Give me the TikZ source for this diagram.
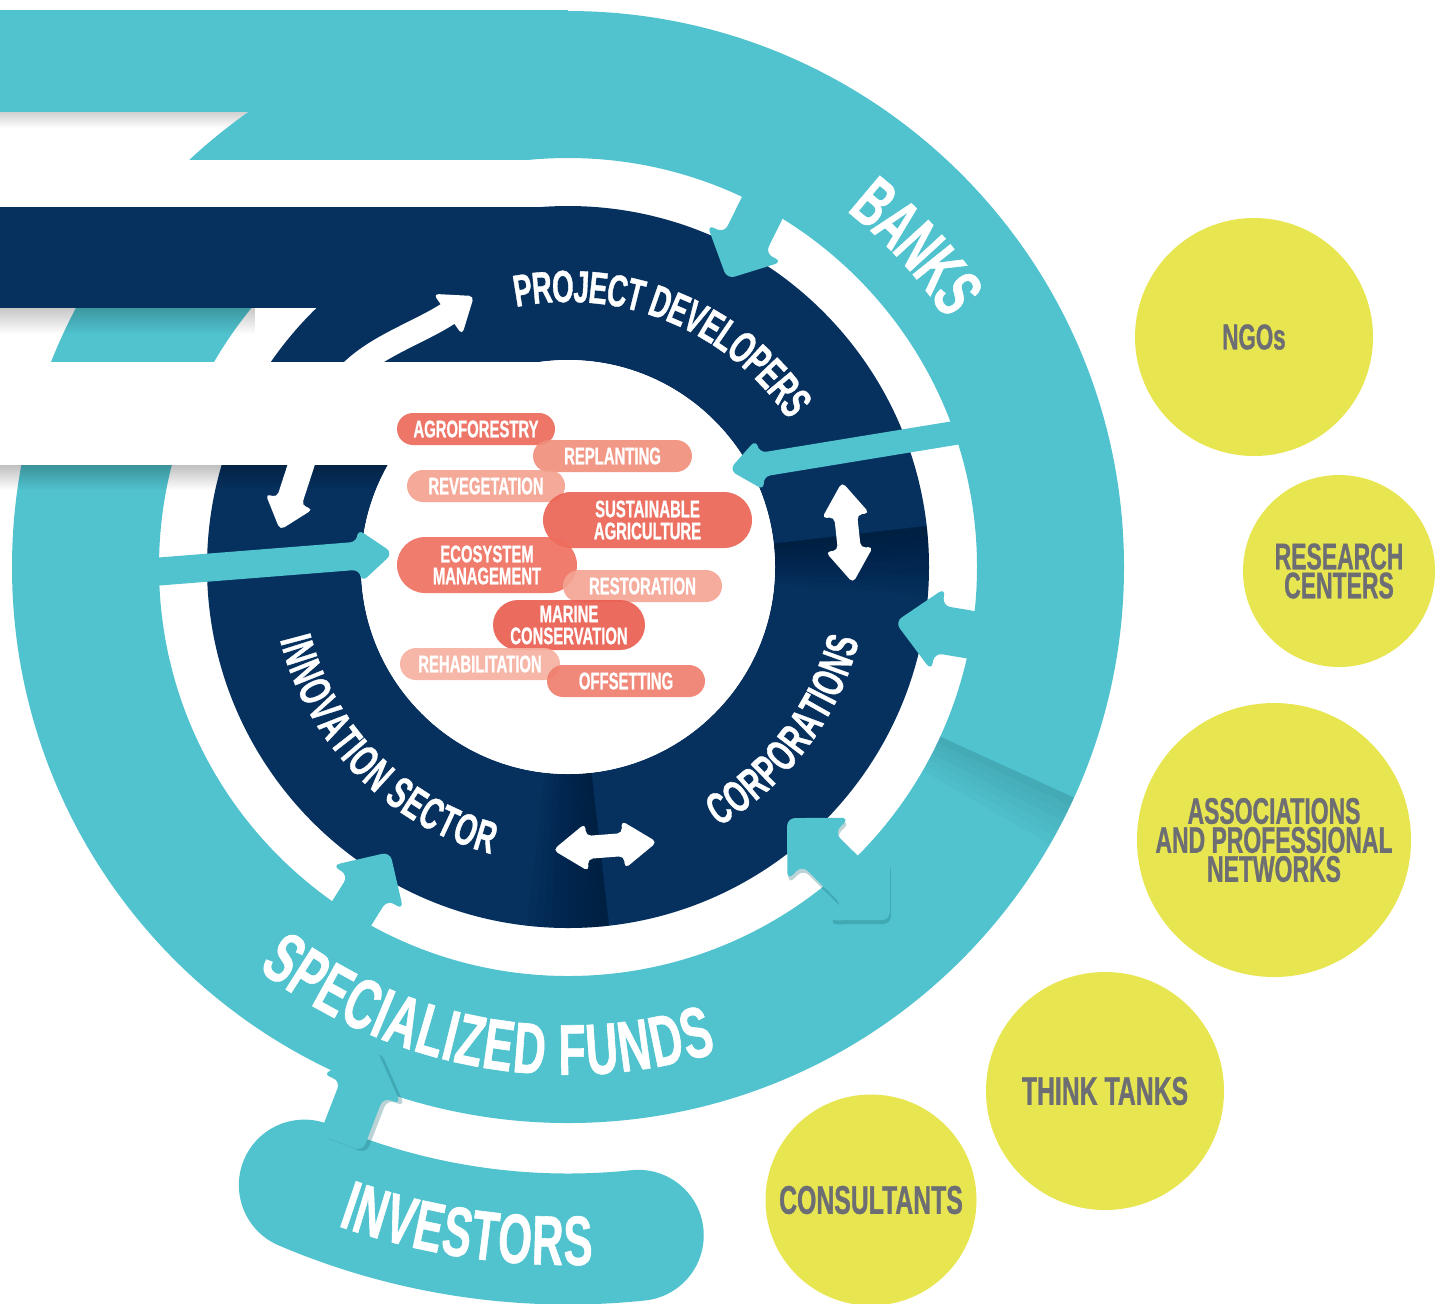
\documentclass[tikz,border=0pt]{standalone}
\usepackage{fontspec}
\newfontfamily\cf[FakeStretch=0.62,FakeBold=0.8]{Liberation Sans}
\usetikzlibrary{calc,decorations.text,fadings}
\definecolor{tealc}{RGB}{80,195,207}
\definecolor{tealdark}{RGB}{30,110,120}
\definecolor{navyc}{RGB}{6,48,94}
\definecolor{yelc}{RGB}{232,230,80}
\definecolor{grayt}{RGB}{108,110,116}
\definecolor{pA}{RGB}{236,104,88}
\definecolor{pB}{RGB}{241,141,122}
\definecolor{pC}{RGB}{244,160,142}
\definecolor{pD}{RGB}{236,98,82}
\definecolor{pE}{RGB}{239,110,94}
\definecolor{pF}{RGB}{245,164,146}
\definecolor{pG}{RGB}{234,92,78}
\definecolor{pH}{RGB}{246,176,160}
\definecolor{pI}{RGB}{240,125,108}
\tikzfading[name=fadedown, top color=transparent!0, bottom color=transparent!100]
\newcommand\fatarrow[6]{%
  \path let \p1=($(#3)-(#2)$) in \pgfextra{%
    \pgfmathsetmacro\fatmpl{veclen(\x1,\y1)}%
    \pgfmathsetmacro\fatmpa{atan2(\y1,\x1)}%
    \xdef\falen{\fatmpl}\xdef\faang{\fatmpa}};
  \fill[#1, shift={(#3)}, rotate=\faang] (0pt,0pt) -- (-#6pt,#5pt) -- (-#6pt,#4pt)
    -- ({-\falen*1pt},#4pt) -- ({-\falen*1pt},-#4pt) -- (-#6pt,-#4pt) -- (-#6pt,-#5pt) -- cycle;
}
\newcommand\fatdarrow[6]{%
  \path let \p1=($(#3)-(#2)$) in \pgfextra{%
    \pgfmathsetmacro\fatmpl{veclen(\x1,\y1)}%
    \pgfmathsetmacro\fatmpa{atan2(\y1,\x1)}%
    \xdef\falen{\fatmpl}\xdef\faang{\fatmpa}};
  \fill[#1, shift={(#3)}, rotate=\faang] (0pt,0pt) -- (-#6pt,#5pt) -- (-#6pt,#4pt)
    -- ({-\falen*1pt+#6pt},#4pt) -- ({-\falen*1pt+#6pt},#5pt) -- ({-\falen*1pt},0pt)
    -- ({-\falen*1pt+#6pt},-#5pt) -- ({-\falen*1pt+#6pt},-#4pt) -- (-#6pt,-#4pt) -- (-#6pt,-#5pt) -- cycle;
}
\begin{document}
\begin{tikzpicture}[x=0.5pt,y=0.5pt,
  pill/.style={rectangle, rounded corners=8pt, inner sep=0pt, minimum height=16pt, text=white,
    font=\cf\bfseries\fontsize{12}{11}\selectfont, align=center, fill opacity=0.9, text opacity=1},
  pilltwo/.style={pill, rounded corners=14pt, minimum height=28pt},
  ycirc/.style={circle, fill=yelc, inner sep=0pt, text=grayt,
    font=\cf\bfseries\fontsize{18.5}{14.5}\selectfont, align=center},
  tealarrow/.style={fill=tealc, rounded corners=4pt},
  shadowarrow/.style={fill=tealdark, opacity=0.3, rounded corners=4pt},
  whitearrow/.style={fill=white, rounded corners=2.5pt},
  ringtext/.style n args={3}{decorate, decoration={text along path,
    text={|\cf\bfseries\fontsize{#1}{#1}\selectfont\color{white}|#3}, text align=center, raise=#2}}
]
\useasboundingbox (0,0) rectangle (1445,-1303);
\clip (0,0) rectangle (1445,-1303);
\coordinate (C) at (568,-567);
\fill[white] (0,0) rectangle (1445,-1303);

% shadow under top teal band
\fill[black, opacity=0.18, path fading=fadedown] (-10,-112) rectangle (262,-128);
% teal ribbon
\fill[tealc, even odd rule] (C) circle[radius=556] (C) circle[radius=409];
\fill[tealc] (-10,-10) rectangle (568,-112);
\begin{scope}[shift={(C)}]
  \foreach \k in {1,...,6}
    \fill[black, opacity=0.018] (-24.5:409) arc[start angle=-24.5, end angle={-24.5-0.9*\k}, radius=409]
      -- ({-24.5-0.9*\k}:556) arc[start angle={-24.5-0.9*\k}, end angle=-24.5, radius=556] -- cycle;
\end{scope}
% white gap band
\fill[white] (-10,-160) rectangle (568,-207);
% navy ribbon
\fill[navyc] (-10,-207) rectangle (568,-308);
\fill[navyc, even odd rule] (C) circle[radius=361] (C) circle[radius=207];
\begin{scope}[shift={(C)}]
  \foreach \k in {1,...,10}
    \fill[black, opacity=0.028] (6.5:207) arc[start angle=6.5, end angle={6.5-1.1*\k}, radius=207]
      -- ({6.5-1.1*\k}:361) arc[start angle={6.5-1.1*\k}, end angle=6.5, radius=361] -- cycle;
  \foreach \k in {1,...,10}
    \fill[black, opacity=0.028] (-83.5:207) arc[start angle=-83.5, end angle={-83.5-1.3*\k}, radius=207]
      -- ({-83.5-1.3*\k}:361) arc[start angle={-83.5-1.3*\k}, end angle=-83.5, radius=361] -- cycle;
\end{scope}
% shadow under navy band
\fill[black, opacity=0.22, path fading=fadedown] (-10,-308) rectangle (255,-334);
% white band and inner disk
\fill[white] (-10,-362) rectangle (568,-465);
\fill[black, opacity=0.25, path fading=fadedown] (-10,-465) rectangle (392,-490);
\fill[white] (C) circle[radius=207];

% investors blob
\draw[tealc, line width=65.5pt, line cap=round] ([shift={(246.9:672)}]C) arc[start angle=246.9, end angle=276, radius=672];

% teal arrows
\coordinate (a1t) at (775,-182);  \coordinate (a1h) at (727,-279);
\coordinate (a2t) at (1002,-640); \coordinate (a2h) at (895,-622);
\coordinate (a3t) at (335,-940);  \coordinate (a3h) at (390,-852);
\coordinate (a4t) at (341,-1143); \coordinate (a4h) at (377,-1050);
\coordinate (a4ts) at (345,-1145); \coordinate (a4hs) at (381,-1052);
\coordinate (a5a) at (787,-818);  \coordinate (a5b) at (890,-920);
\coordinate (a5as) at (788,-822); \coordinate (a5bs) at (891,-924);
\coordinate (a6t) at (985,-428);  \coordinate (a6h) at (729,-470);
\coordinate (a7t) at (140,-573);  \coordinate (a7h) at (393,-553);
\fatarrow{tealarrow}{a1t}{a1h}{11.5}{21}{20}
\fatarrow{tealarrow}{a2t}{a2h}{12}{21}{22}
\fatarrow{tealarrow}{a3t}{a3h}{11.5}{21}{21}
\fatarrow{shadowarrow}{a4ts}{a4hs}{11.5}{21}{21}
\fatarrow{tealarrow}{a4t}{a4h}{11.5}{21}{21}
\fatdarrow{shadowarrow}{a5as}{a5bs}{11.5}{22}{22}
\fatdarrow{tealarrow}{a5a}{a5b}{11.5}{22}{22}
\fatarrow{tealarrow}{a6t}{a6h}{6}{13}{16}
\fatarrow{tealarrow}{a7t}{a7h}{7}{13.5}{17}

% white arrows
\coordinate (wa0) at (340,-385); \coordinate (wa1) at (452,-311); \coordinate (wa2) at (474,-296);
\draw[white, line width=12pt] (wa0) .. controls +(55:45) and +(215:40) .. (wa1);
\fill[whitearrow, shift={(wa2)}, rotate=35] (0pt,0pt) -- (-16pt,12.5pt) -- (-16pt,-12.5pt) -- cycle;
\coordinate (wbt) at (306,-450); \coordinate (wbh) at (280,-530);
\fatarrow{whitearrow}{wbt}{wbh}{6.5}{12.5}{15}
\coordinate (wc1) at (842,-482); \coordinate (wc2) at (853,-583);
\fatdarrow{whitearrow}{wc1}{wc2}{5.75}{12}{17}
\coordinate (wd1) at (553,-850); \coordinate (wd2) at (657,-842);
\fatdarrow{whitearrow}{wd1}{wd2}{5.75}{12}{17}

% pills
\node[pill, fill=pA, minimum width=79pt] (agro) at (476,-429) {AGROFORESTRY};
\node[pill, fill=pB, minimum width=79.5pt] (repl) at (612.5,-456) {REPLANTING};
\node[pill, fill=pC, minimum width=79pt] (reveg) at (486,-486) {REVEGETATION};
\node[pilltwo, fill=pD, minimum width=104.5pt] (susag) at (647.5,-520) {SUSTAINABLE\\AGRICULTURE};
\node[pilltwo, fill=pE, minimum width=90pt] (ecos) at (487,-565) {ECOSYSTEM\\MANAGEMENT};
\node[pill, fill=pF, minimum width=79.5pt] (resto) at (642.5,-586) {RESTORATION};
\node[pilltwo, fill=pG, minimum width=76pt, minimum height=25pt, rounded corners=12.5pt] (marine) at (569,-625) {MARINE\\CONSERVATION};
\node[pill, fill=pH, minimum width=80pt] (rehab) at (480,-664) {REHABILITATION};
\node[pill, fill=pI, minimum width=79pt] (offs) at (626,-681) {OFFSETTING};

% ring texts
\path[ringtext={22.5}{-8pt}{PROJECT DEVELOPERS}] ([shift={(110:281)}]C) arc[start angle=110, end angle=25, radius=281];
\path[ringtext={22.5}{-8pt}{CORPORATIONS}] ([shift={(-80:284)}]C) arc[start angle=-80, end angle=6, radius=284];
\path[ringtext={22.5}{-8pt}{INNOVATION SECTOR}] ([shift={(180:281)}]C) arc[start angle=180, end angle=269.2, radius=281];
\path[ringtext={35}{-12.5pt}{BANKS}] ([shift={(70:477)}]C) arc[start angle=70, end angle=15.2, radius=477];
\path[ringtext={36}{-12.9pt}{SPECIALIZED FUNDS}] ([shift={(220:482)}]C) arc[start angle=220, end angle=299.4, radius=482];
\path[ringtext={35}{-12.5pt}{INVESTORS}] ([shift={(245:673)}]C) arc[start angle=245, end angle=277.8, radius=673];

% yellow circles
\node[ycirc, minimum size=119pt, font=\cf\bfseries\fontsize{18}{14.5}\selectfont] (ngo) at (1254,-337) {NGOs};
\node[ycirc, minimum size=96pt] (research) at (1339,-571) {RESEARCH\\CENTERS};
\node[ycirc, minimum size=137pt] (assoc) at (1274,-840) {ASSOCIATIONS\\AND PROFESSIONAL\\NETWORKS};
\node[ycirc, minimum size=119pt, font=\cf\bfseries\fontsize{20}{15}\selectfont] (think) at (1105,-1091) {THINK TANKS};
\node[ycirc, minimum size=105.5pt, font=\cf\bfseries\fontsize{20}{15}\selectfont] (consult) at (871,-1200) {CONSULTANTS};
\end{tikzpicture}
\end{document}
